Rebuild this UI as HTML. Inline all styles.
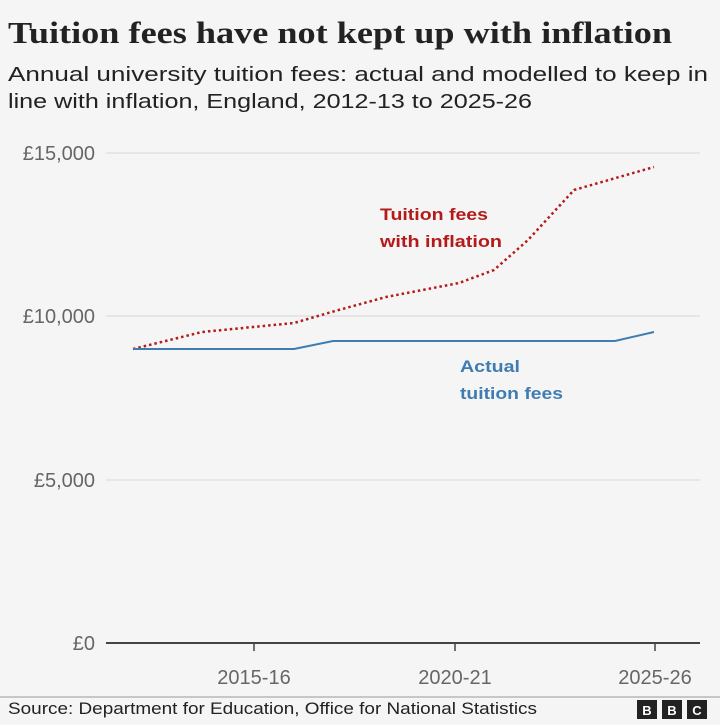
<!DOCTYPE html>
<html><head><meta charset="utf-8"><style>
body{margin:0;width:720px;height:720px;background:#f5f5f5;overflow:hidden;font-family:"Liberation Sans",sans-serif;}
</style></head><body>
<svg width="720" height="720" xmlns="http://www.w3.org/2000/svg">
<rect width="720" height="720" fill="#f5f5f5"/>
<text x="8" y="43" font-family="Liberation Serif,serif" font-weight="bold" font-size="31" fill="#222" textLength="664" lengthAdjust="spacingAndGlyphs">Tuition fees have not kept up with inflation</text>
<text x="8" y="81" font-size="20" fill="#222" textLength="700" lengthAdjust="spacingAndGlyphs">Annual university tuition fees: actual and modelled to keep in</text>
<text x="8" y="108" font-size="20" fill="#222" textLength="524" lengthAdjust="spacingAndGlyphs">line with inflation, England, 2012-13 to 2025-26</text>
<g stroke="#d6d6d6" stroke-width="1">
<line x1="106" y1="153" x2="700" y2="153"/>
<line x1="106" y1="316" x2="700" y2="316"/>
<line x1="106" y1="480" x2="700" y2="480"/>
</g>
<g font-size="20" fill="#666" text-anchor="end">
<text x="95" y="160">£15,000</text>
<text x="95" y="323">£10,000</text>
<text x="95" y="487">£5,000</text>
<text x="95" y="650">£0</text>
</g>
<line x1="106" y1="643" x2="700" y2="643" stroke="#444" stroke-width="2"/>
<g stroke="#444" stroke-width="1.5">
<line x1="254" y1="643" x2="254" y2="651"/>
<line x1="455" y1="643" x2="455" y2="651"/>
<line x1="655" y1="643" x2="655" y2="651"/>
</g>
<g font-size="20" fill="#666" text-anchor="middle">
<text x="254" y="684">2015-16</text>
<text x="455" y="684">2020-21</text>
<text x="655" y="684">2025-26</text>
</g>
<polyline fill="none" stroke="#b41a1a" stroke-width="2.5" stroke-dasharray="2.5,3" points="133,349 202,332 294,323 335,311 386,297 459,283 494,270 528,240 574,190 654,167"/>
<polyline fill="none" stroke="#3e7cb1" stroke-width="2" points="133,349 294,349 333,341 615,341 654,332"/>
<g font-size="17" font-weight="bold" fill="#b41a1a">
<text x="380" y="220" textLength="108" lengthAdjust="spacingAndGlyphs">Tuition fees</text>
<text x="380" y="247" textLength="122" lengthAdjust="spacingAndGlyphs">with inflation</text>
</g>
<g font-size="17" font-weight="bold" fill="#3e7cb1">
<text x="460" y="372" textLength="60" lengthAdjust="spacingAndGlyphs">Actual</text>
<text x="460" y="399" textLength="103" lengthAdjust="spacingAndGlyphs">tuition fees</text>
</g>
<line x1="0" y1="697" x2="720" y2="697" stroke="#999" stroke-width="1"/>
<text x="8" y="714" font-size="17" fill="#222" textLength="529" lengthAdjust="spacingAndGlyphs">Source: Department for Education, Office for National Statistics</text>
<g>
<rect x="637" y="700" width="20" height="19" fill="#222"/>
<rect x="662" y="700" width="20" height="19" fill="#222"/>
<rect x="687" y="700" width="20" height="19" fill="#222"/>
<g font-size="13" font-weight="bold" fill="#fff" text-anchor="middle">
<text x="647" y="715">B</text><text x="672" y="715">B</text><text x="697" y="715">C</text>
</g>
</g>
</svg>
</body></html>
